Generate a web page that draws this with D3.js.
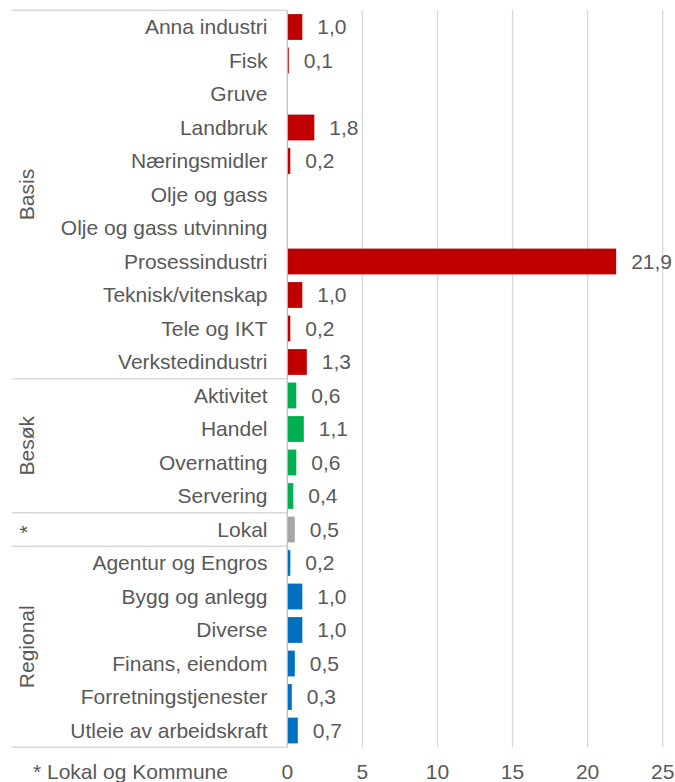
<!DOCTYPE html>
<html>
<head>
<meta charset="utf-8">
<script src="https://d3js.org/d3.v7.min.js"></script>
<style>
    body { margin: 0; background: #ffffff; }
    text { font-family: "Liberation Sans", Arial, sans-serif; fill: #595959; }
    .gridLines { stroke: #d9d9d9; stroke-width: 1.3; }
    .axisLine { stroke: #bfbfbf; stroke-width: 1.3; }
    .groupLines { stroke: #d9d9d9; stroke-width: 1.3; }
</style>
</head>
<body>
<script>
(function(){

    //chart data
    var categories = ["Anna industri", "Fisk", "Gruve", "Landbruk", "Næringsmidler", "Olje og gass",
        "Olje og gass utvinning", "Prosessindustri", "Teknisk/vitenskap", "Tele og IKT", "Verkstedindustri",
        "Aktivitet", "Handel", "Overnatting", "Servering",
        "Lokal",
        "Agentur og Engros", "Bygg og anlegg", "Diverse", "Finans, eiendom", "Forretningstjenester", "Utleie av arbeidskraft"];
    var values = [1.0, 0.1, 0, 1.8, 0.2, 0, 0, 21.9, 1.0, 0.2, 1.3,
        0.6, 1.1, 0.6, 0.4,
        0.5,
        0.2, 1.0, 1.0, 0.5, 0.3, 0.7];
    var groups = ["Basis", "Besøk", "*", "Regional"];
    var groupSizes = [11, 4, 1, 6];
    var groupColors = ["#c00000", "#00b050", "#a5a5a5", "#0070c0"];
    var xTicks = [0, 5, 10, 15, 20, 25];
    var footnote = "* Lokal og Kommune";

    window.onload = setChart();

function setChart(){
    var width = 675,
        height = 782;

    var svg = d3.select("body")
        .append("svg")
        .attr("width", width)
        .attr("height", height);

    //plot area
    var left = 287.3, right = 662.7, top = 10.25, bottom = 747.25;

    var x = d3.scaleLinear()
        .domain([0, 25])
        .range([left, right]);

    var y = d3.scaleBand()
        .domain(categories)
        .range([top, bottom])
        .paddingInner(0.23)
        .paddingOuter(0.115);

    var step = y.step();

    //which group each row belongs to
    var groupOf = [];
    groupSizes.forEach(function(n, g){
        for (var i = 0; i < n; i++) groupOf.push(g);
    });

    //vertical gridlines
    svg.selectAll(".gridLines")
        .data(xTicks.slice(1))
        .enter()
        .append("line")
        .attr("class", "gridLines")
        .attr("x1", function(d){ return x(d); })
        .attr("x2", function(d){ return x(d); })
        .attr("y1", top)
        .attr("y2", bottom);

    //group boundary lines on the category side
    var bounds = [0];
    groupSizes.reduce(function(acc, n){ bounds.push(acc + n); return acc + n; }, 0);

    svg.selectAll(".groupLines")
        .data(bounds)
        .enter()
        .append("line")
        .attr("class", "groupLines")
        .attr("x1", 12)
        .attr("x2", left)
        .attr("y1", function(d){ return top + d * step; })
        .attr("y2", function(d){ return top + d * step; });

    //bars
    svg.selectAll(".bar")
        .data(categories)
        .enter()
        .append("rect")
        .attr("class", "bar")
        .attr("x", x(0))
        .attr("y", function(d){ return y(d); })
        .attr("width", function(d, i){ return x(values[i]) - x(0); })
        .attr("height", y.bandwidth())
        .style("fill", function(d, i){ return groupColors[groupOf[i]]; });

    //value axis line
    svg.append("line")
        .attr("class", "axisLine")
        .attr("x1", x(0))
        .attr("x2", x(0))
        .attr("y1", top)
        .attr("y2", bottom);

    //category labels
    svg.selectAll(".catLabel")
        .data(categories)
        .enter()
        .append("text")
        .attr("class", "catLabel")
        .attr("x", 267.5)
        .attr("y", function(d){ return y(d) + y.bandwidth() / 2; })
        .attr("dy", "0.35em")
        .attr("text-anchor", "end")
        .style("font-size", "21px")
        .text(function(d){ return d; });

    //value labels (skip zeros)
    var fmt = function(v){ return v.toFixed(1).replace(".", ","); };
    svg.selectAll(".valLabel")
        .data(categories)
        .enter()
        .filter(function(d, i){ return values[i] > 0; })
        .append("text")
        .attr("class", "valLabel")
        .attr("x", function(d){ return x(values[categories.indexOf(d)]) + 15; })
        .attr("y", function(d){ return y(d) + y.bandwidth() / 2; })
        .attr("dy", "0.35em")
        .style("font-size", "21px")
        .text(function(d){ return fmt(values[categories.indexOf(d)]); });

    //group labels, rotated
    svg.selectAll(".groupLabel")
        .data(groups)
        .enter()
        .append("text")
        .attr("class", "groupLabel")
        .attr("transform", function(d, g){
            var cy = top + (bounds[g] + bounds[g + 1]) / 2 * step;
            return "translate(33.5," + cy + ") rotate(-90)";
        })
        .attr("text-anchor", "middle")
        .style("font-size", "21px")
        .text(function(d){ return d; });

    //x tick labels
    svg.selectAll(".tickLabel")
        .data(xTicks)
        .enter()
        .append("text")
        .attr("class", "tickLabel")
        .attr("x", function(d){ return x(d); })
        .attr("y", 779)
        .attr("text-anchor", "middle")
        .style("font-size", "21px")
        .text(function(d){ return d; });

    //footnote
    svg.append("text")
        .attr("x", 33)
        .attr("y", 779)
        .style("font-size", "21px")
        .text(footnote);
};

})();
</script>
</body>
</html>
